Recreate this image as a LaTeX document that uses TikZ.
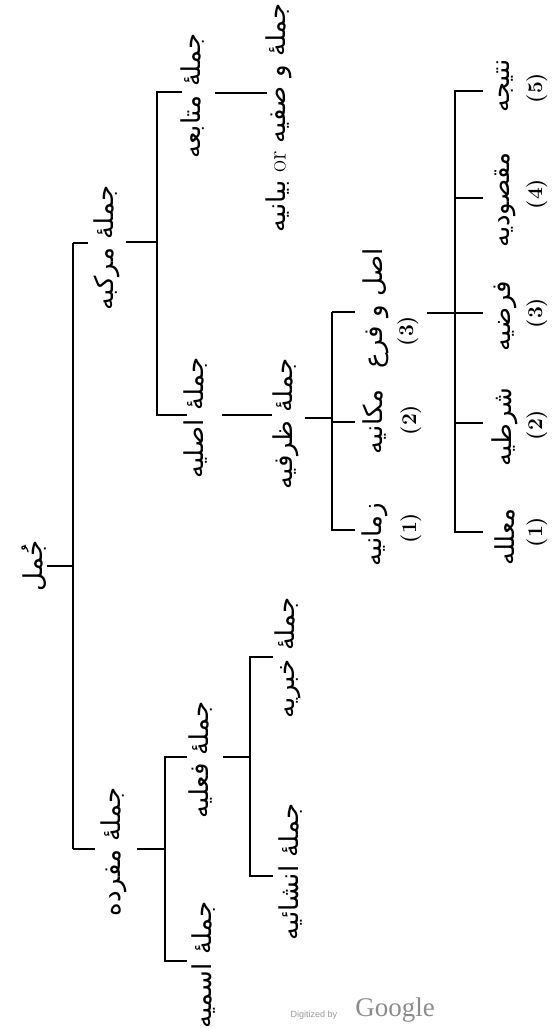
\documentclass[tikz,border=0pt]{standalone}
\usepackage{fontspec}
\newfontfamily\ar[Script=Arabic]{DejaVu Sans}
\newfontfamily\wmsans{Liberation Sans}
\newfontfamily\wmserif{Liberation Serif}
\TeXXeTstate=1
\begin{document}
\begin{tikzpicture}[x=1pt,y=-1pt,
  br/.style={line width=1.8pt, line cap=butt},
  lab/.style={rotate=90, inner sep=0pt, font=\ar\fontsize{26}{30}\selectfont},
  num/.style={rotate=90, inner sep=0pt, font=\rmfamily\bfseries\fontsize{21}{24}\selectfont}]
\fill[white] (0,0) rectangle (556,1028);
\useasboundingbox (0,0) rectangle (556,1028);

% bracket (vertical) lines
\coordinate (v0t) at (73,243);  \coordinate (v0b) at (73,849);
\coordinate (v1t) at (157,91);  \coordinate (v1b) at (157,416);
\coordinate (v2t) at (332,312); \coordinate (v2b) at (332,531);
\coordinate (v3t) at (455,90);  \coordinate (v3b) at (455,533);
\coordinate (v4t) at (165,756); \coordinate (v4b) at (165,962);
\coordinate (v5t) at (250,656); \coordinate (v5b) at (250,877);
\foreach \v in {0,...,5} \draw[br] (v\v t) -- (v\v b);

% labels
\node[lab] (R)  at (34,566)  {\beginR جُمل\endR};
\node[lab] (M)  at (107,248) {\beginR جملهٔ مرکبه\endR};
\node[lab] (F)  at (114,852) {\beginR جملهٔ مفرده\endR};
\node[lab] (T)  at (193,96)  {\beginR جملهٔ متابعه\endR};
\node[lab] (W)  at (279,118) {\beginR جملهٔ و صفیه \beginL{\rmfamily or}\endL{} بیانیه\endR};
\node[lab] (A)  at (196,418) {\beginR جملهٔ اصلیه\endR};
\node[lab] (Z)  at (286,424) {\beginR جملهٔ ظرفیه\endR};
\node[lab] (P3) at (376,308) {\beginR اصل و فرع\endR};
\node[num] (P3n) at (408,331) {(3)};
\node[lab] (P2) at (375,422) {\beginR مکانیه\endR};
\node[num] (P2n) at (411,420) {(2)};
\node[lab] (P1) at (375,535) {\beginR زمانیه\endR};
\node[num] (P1n) at (411,528) {(1)};
\node[lab] (Q5) at (505,86)  {\beginR نتیجه\endR};
\node[num] (Q5n) at (537,88) {(5)};
\node[lab] (Q4) at (505,200) {\beginR مقصودیه\endR};
\node[num] (Q4n) at (537,194) {(4)};
\node[lab] (Q3) at (505,316) {\beginR فرضیه\endR};
\node[num] (Q3n) at (537,313) {(3)};
\node[lab] (Q2) at (505,427) {\beginR شرطیه\endR};
\node[num] (Q2n) at (537,425) {(2)};
\node[lab] (Q1) at (505,537) {\beginR معلله\endR};
\node[num] (Q1n) at (537,532) {(1)};
\node[lab] (Fi) at (201,760) {\beginR جملهٔ فعلیه\endR};
\node[lab] (S)  at (204,965) {\beginR جملهٔ اسمیه\endR};
\node[lab] (K)  at (288,658) {\beginR جملهٔ خبریه\endR};
\node[lab] (N)  at (291,872) {\beginR جملهٔ انشائیه\endR};

% tick end points (near labels)
\coordinate (Ro) at (47,566);
\coordinate (Mi) at (88,243);   \coordinate (Mo) at (126,242);
\coordinate (Fin) at (95,849);  \coordinate (Fo) at (137,849);
\coordinate (Ti) at (182,92);   \coordinate (To) at (215,93);
\coordinate (Wi) at (267,93);
\coordinate (Ai) at (187,415);  \coordinate (Ao) at (222,415);
\coordinate (Zi) at (272,415);  \coordinate (Zo) at (305,418);
\coordinate (P3i) at (355,312); \coordinate (P3o) at (427,313);
\coordinate (P2i) at (355,422);
\coordinate (P1i) at (355,530);
\coordinate (Q5i) at (483,91);
\coordinate (Q4i) at (483,198);
\coordinate (Q3i) at (483,313);
\coordinate (Q2i) at (483,423);
\coordinate (Q1i) at (483,532);
\coordinate (Fii) at (187,757); \coordinate (Fio) at (223,757);
\coordinate (Si) at (187,961);
\coordinate (Ki) at (273,657);
\coordinate (Ni) at (273,876);

% connectors
\draw[br] (Ro) -- (Ro -| v0t);
\draw[br] (Mi -| v0t) -- (Mi);
\draw[br] (Fin -| v0t) -- (Fin);
\draw[br] (Mo) -- (Mo -| v1t);
\draw[br] (Ti -| v1t) -- (Ti);
\draw[br] (Ai -| v1t) -- (Ai);
\draw[br] (To) -- (Wi);
\draw[br] (Ao) -- (Zi);
\draw[br] (Zo) -- (Zo -| v2t);
\draw[br] (P3i -| v2t) -- (P3i);
\draw[br] (P2i -| v2t) -- (P2i);
\draw[br] (P1i -| v2t) -- (P1i);
\draw[br] (P3o) -- (P3o -| v3t);
\foreach \q in {Q5i,Q4i,Q3i,Q2i,Q1i} \draw[br] (\q -| v3t) -- (\q);
\draw[br] (Fo) -- (Fo -| v4t);
\draw[br] (Fii -| v4t) -- (Fii);
\draw[br] (Si -| v4t) -- (Si);
\draw[br] (Fio) -- (Fio -| v5t);
\draw[br] (Ki -| v5t) -- (Ki);
\draw[br] (Ni -| v5t) -- (Ni);

% watermark
\node[inner sep=0pt, text=black!40, font=\wmsans\fontsize{9}{10}\selectfont] (wm1) at (314,1015) {Digitized by};
\node[inner sep=0pt, text=black!45, font=\wmserif\fontsize{27}{28}\selectfont] (wm2) at (395,1010) {Google};
\end{tikzpicture}
\end{document}
